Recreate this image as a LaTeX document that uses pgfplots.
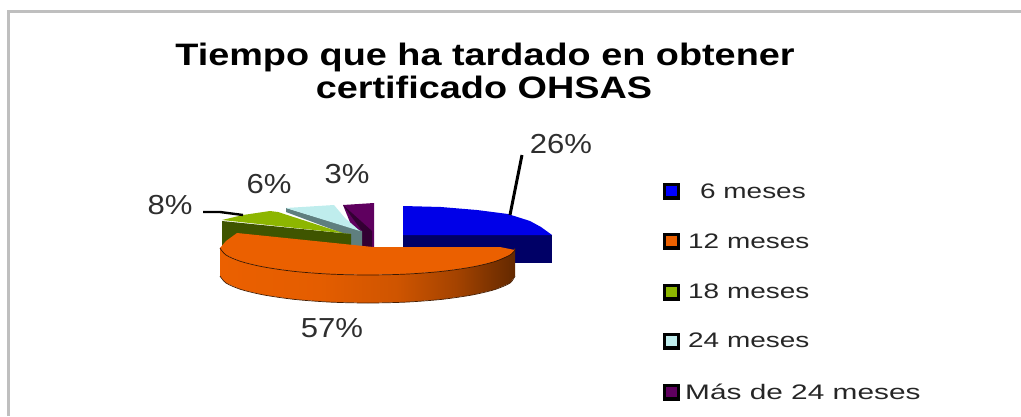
\documentclass[border=0pt]{standalone}
\usepackage{pgfplots}
\pgfplotsset{compat=1.18}
\usepackage{fontspec}
\setmainfont{Liberation Sans}
\definecolor{pblue}{HTML}{0000E8}
\definecolor{pbluew}{HTML}{000066}
\definecolor{porange}{HTML}{EB6000}
\definecolor{pgreen}{HTML}{8DB600}
\definecolor{pgreenw}{HTML}{3F5500}
\definecolor{pcyan}{HTML}{BFEDED}
\definecolor{pcyanw}{HTML}{5F7F7F}
\definecolor{ppurple}{HTML}{5F005F}
\definecolor{ppurplew}{HTML}{330033}
\definecolor{fr}{HTML}{BFBFBF}
\pgfdeclarehorizontalshading{orangeside}{100bp}{
  color(0bp)=(porange!100!black);
  color(25bp)=(porange);
  color(42bp)=(porange!97!black);
  color(55bp)=(porange!88!black);
  color(65bp)=(porange!70!black);
  color(75bp)=(porange!42!black);
  color(100bp)=(porange!42!black)}
\newcommand{\lab}[3]{\node[anchor=base,inner sep=0pt,text=black!82] at (axis cs:#1,#2) {\scalebox{1.13}[1]{\fontsize{27.5}{27.5}\selectfont #3}};}
\newcommand{\leg}[4]{\node[anchor=base west,inner sep=0pt,text=black!85] at (axis cs:#1,#2) {\scalebox{#3}[1]{\fontsize{21}{21}\selectfont #4}};}
\begin{document}
\begin{tikzpicture}
\path[use as bounding box] (0,0) rectangle (1021pt,416pt);
\begin{axis}[
  at={(0,0)},anchor=south west,
  scale only axis,width=1021pt,height=416pt,
  xmin=0,xmax=1021,ymin=0,ymax=416,y dir=reverse,
  axis lines=none,clip=false
]
% frame
\addplot[fr,line width=3pt,forget plot] coordinates {(8.5,416)(8.5,11.5)(1021,11.5)};
% blue slice
\addplot[fill=pbluew,draw=none] coordinates {(403,235)(552,235)(552,263)(403,263)} -- cycle;
\addplot[fill=pblue,draw=none] coordinates {(403,206)(441,207)(477,210)(508,214)(530,221)(541,227)(552,235)(403,235)} -- cycle;
% purple slice
\addplot[fill=ppurple,draw=none] coordinates {(343,205)(374,203)(374,247)(360,247)} -- cycle;
\addplot[fill=ppurplew,draw=none] coordinates {(343,205)(372,231)(372,247)(362,247)(362,231)} -- cycle;
% cyan slice
\addplot[fill=pcyanw,draw=none] coordinates {(286,208)(362,231)(362,247)(350,247)(350,236)(286,212)} -- cycle;
\addplot[fill=pcyan,draw=none] coordinates {(286,208)(334,205)(345,218)(360,231)} -- cycle;
% green slice
\addplot[fill=pgreenw,draw=none] coordinates {(222,221)(351,234)(351,247)(222,247)} -- cycle;
\addplot[fill=pgreen,draw=none] coordinates {(222,220)(243,215)(270,211)(278,212)(343,233)(351,234)} -- cycle;
% orange slice
\addplot[shading=orangeside,draw=none] coordinates {
 (515,248)(510,255)(495,261.5)(472,267)(441.5,271.4)(406,274.1)(368,275)(330,274.1)(294.5,271.4)(264,267)(241,261.5)(226,255)(220,248)
 (220,276)(226,283)(241,289.5)(264,295)(294.5,299.4)(330,302.1)(368,303)(406,302.1)(441.5,299.4)(472,295)(495,289.5)(510,283)(515,276)} -- cycle;
\addplot[fill=porange,draw=none] coordinates {
 (237,233)(373,247)(500,247)(515,250)(510,255)(495,261.5)(472,267)(441.5,271.4)(406,274.1)(368,275)(330,274.1)(294.5,271.4)(264,267)(241,261.5)(226,255)(220,248)(226,241)} -- cycle;
\addplot[black!75!porange,line width=0.7pt,smooth] coordinates {
 (515,250)(510,255)(495,261.5)(472,267)(441.5,271.4)(406,274.1)(368,275)(330,274.1)(294.5,271.4)(264,267)(241,261.5)(226,255)(220,248)};
\addplot[black!70!porange,line width=0.7pt,smooth] coordinates {
 (220,276)(226,283)(241,289.5)(264,295)(294.5,299.4)(330,302.1)(368,303)(406,302.1)(441.5,299.4)(472,295)(495,289.5)(510,283)(515,276)};
% leader lines
\addplot[black,line width=3pt] coordinates {(522,155)(510,215)};
\addplot[black,line width=2.4pt] coordinates {(203,212)(220,212)(243,215)};
% legend markers
\addplot[only marks,mark=square*,mark size=6.8pt,mark options={draw=black,line width=3.4pt,fill=blue}] coordinates {(671.5,191)};
\addplot[only marks,mark=square*,mark size=6.8pt,mark options={draw=black,line width=3.4pt,fill=porange}] coordinates {(671.5,241)};
\addplot[only marks,mark=square*,mark size=6.8pt,mark options={draw=black,line width=3.4pt,fill=pgreen}] coordinates {(671.5,292)};
\addplot[only marks,mark=square*,mark size=6.8pt,mark options={draw=black,line width=3.4pt,fill=pcyan}] coordinates {(671.5,341)};
\addplot[only marks,mark=square*,mark size=6.8pt,mark options={draw=black,line width=3.4pt,fill=ppurple}] coordinates {(671.5,392)};
% labels
\lab{561}{153}{26\%}
\lab{347}{183}{3\%}
\lab{269}{193}{6\%}
\lab{170}{214}{8\%}
\lab{332}{337}{57\%}
\leg{700}{198}{1.33}{6 meses}
\leg{688}{248}{1.33}{12 meses}
\leg{688}{298}{1.33}{18 meses}
\leg{688}{347}{1.33}{24 meses}
\leg{685}{399}{1.42}{Más de 24 meses}
% title
\node[anchor=base,inner sep=0pt] at (axis cs:485,65) {\scalebox{1.22}[1]{\fontsize{31}{31}\selectfont\bfseries Tiempo que ha tardado en obtener}};
\node[anchor=base,inner sep=0pt] at (axis cs:484,98) {\scalebox{1.22}[1]{\fontsize{31}{31}\selectfont\bfseries certificado OHSAS}};
\end{axis}
\end{tikzpicture}
\end{document}
